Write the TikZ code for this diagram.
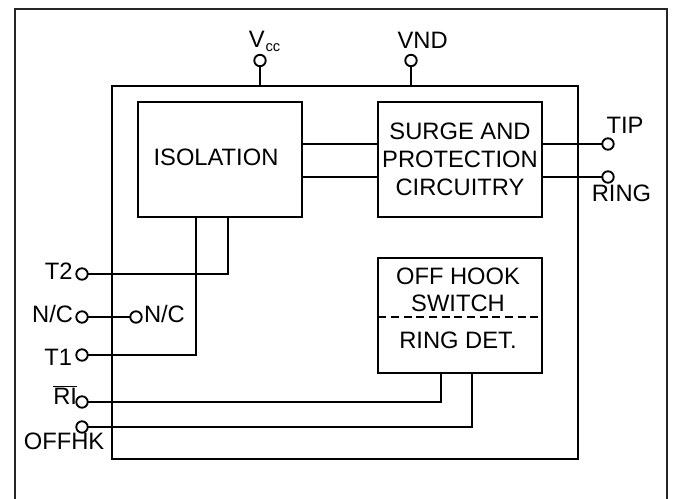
\documentclass[tikz,border=0pt]{standalone}
\usepackage{fontspec}
\setmainfont{Liberation Sans}
\tikzset{
  every path/.style={line width=1.5pt},
  lbl/.style={inner sep=0pt,font=\fontsize{17.8}{20.9}\selectfont,align=center},
  blockbox/.style={draw,inner sep=0pt,outer sep=0pt,anchor=north west,lbl},
  pin/.style={draw,circle,inner sep=0pt,outer sep=0pt,minimum size=8.6pt,fill=white,line width=1.4pt},
  frameline/.style={line width=1.5pt,black!85}
}
\begin{document}
\begin{tikzpicture}[x=0.75pt,y=-0.75pt]
\useasboundingbox (0,0) rectangle (674,499);
\coordinate (fa) at (14.5,499);\coordinate (fb) at (14.5,9);\coordinate (fc) at (667,9);\coordinate (fd) at (667,499);
\draw[frameline] (fa) -- (fb) -- (fc) -- (fd);
% main box
\node[blockbox,minimum width=349.5pt,minimum height=279.75pt] (main) at (112,86) {};
% blocks
\node[blockbox,minimum width=122.55pt,minimum height=86pt] (iso) at (138.3,102) {};
\node[lbl] (isotext) at (216,157.5) {ISOLATION};
\node[blockbox,minimum width=122.55pt,minimum height=86pt] (surge) at (378.3,102) {SURGE AND\\PROTECTION\\CIRCUITRY};
\node[blockbox,minimum width=122.55pt,minimum height=86pt] (hook) at (378.3,258) {};
\coordinate (hl) at (378.3,317);\coordinate (hr) at (541.7,317);
\draw[dash pattern=on 6pt off 3.5pt] (hl) -- (hr);
\node[lbl] (hooka) at (458,276.7) {OFF HOOK};
\node[lbl] (hookb) at (458,303) {SWITCH};
\node[lbl] (hookc) at (458,340) {RING DET.};
% pins
\node[pin] (pvcc) at (260,60.5) {};
\node[pin] (pvnd) at (411,60.5) {};
\node[pin] (ptip) at (608,144) {};
\node[pin] (pring) at (608,177) {};
\node[pin] (pt2) at (82,274) {};
\node[pin] (pnca) at (82,317) {};
\node[pin] (pncb) at (136,317) {};
\node[pin] (pt1) at (82,355) {};
\node[pin] (pri) at (82,402) {};
\node[pin] (poff) at (82,427) {};
% labels
\node[lbl,anchor=base] (lv) at (256.7,48) {V};
\node[inner sep=0pt,anchor=base west,font=\fontsize{11}{13}\selectfont] (lcc) at (264.5,51.5) {cc};
\node[lbl] (lvnd) at (422.7,40) {VND};
\node[lbl] (ltip) at (625,125.5) {TIP};
\node[lbl] (lring) at (621.5,193.5) {RING};
\node[lbl,anchor=east] (lt2) at (73.5,271) {T2};
\node[lbl,anchor=east] (lnca) at (74,314.5) {N/C};
\node[lbl,anchor=west] (lncb) at (143,314.5) {N/C};
\node[lbl,anchor=east] (lt1) at (73,357) {T1};
\node[lbl,anchor=base east] (lri) at (78,404) {$\overline{\hbox{RI}}$};
\node[lbl] (loff) at (64,441) {OFFHK};
% connector bends
\coordinate (isoa) at (228,216.7);
\coordinate (isob) at (196,216.7);
\coordinate (hooka1) at (440.5,372.7);
\coordinate (hookb1) at (472,372.7);
% connectors
\draw (pvcc.south) -- (pvcc.south |- main.north);
\draw (pvnd.south) -- (pvnd.south |- main.north);
\draw (surge.west |- ptip) -- (iso.east |- ptip);
\draw (surge.west |- pring) -- (iso.east |- pring);
\draw (surge.east |- ptip) -- (ptip.west);
\draw (surge.east |- pring) -- (pring.west);
\draw (pt2.east) -| (isoa);
\draw (pnca.east) -- (pncb.west);
\draw (pt1.east) -| (isob);
\draw (pri.east) -| (hooka1);
\draw (poff.east) -| (hookb1);
\end{tikzpicture}
\end{document}
